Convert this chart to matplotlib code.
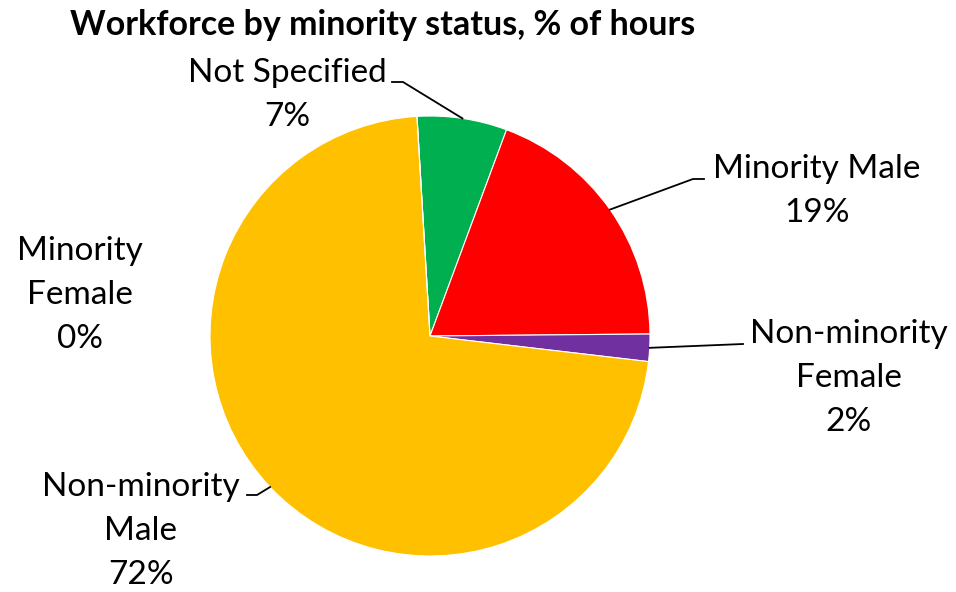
import numpy as np
import matplotlib
matplotlib.use("Agg")
import matplotlib.pyplot as plt

plt.rcParams['font.family'] = ['Lato', 'DejaVu Sans']

# data
categories = ["Not Specified", "Minority Male", "Non-minority\nFemale",
              "Non-minority\nMale", "Minority\nFemale"]
hours_pct = [6.6, 19.2, 2.0, 72.2, 0.0]
colors = ["#00B050", "#FF0000", "#7030A0", "#FFC000", "#4472C4"]

W, H = 956, 592
fig = plt.figure(figsize=(W / 100, H / 100), dpi=100)
ax = fig.add_axes([0, 0, 1, 1])

cx, cy, r = 430, H - 336, 220
wedges, _ = ax.pie(hours_pct, colors=colors, startangle=93.4, counterclock=False,
                   center=(cx, cy), radius=r,
                   wedgeprops=dict(edgecolor="white", linewidth=0.8))
ax.set_xlim(0, W)
ax.set_ylim(0, H)
ax.set_aspect("equal")
ax.axis("off")

# label layout (pixel coords, y from top): text center, line start, elbow
layout = [
    dict(xy=(287, 95), line=[(392, 82), (403, 82)]),
    dict(xy=(817, 191), line=[(704, 179), (693, 179)]),
    dict(xy=(849, 378), line=[(743, 344)]),
    dict(xy=(141, 531), line=[(247, 495), (257, 495)]),
    dict(xy=(80, 295), line=None),
]

for w, cat, val, lay in zip(wedges, categories, hours_pct, layout):
    txt = "%s\n%d%%" % (cat, round(val))
    x, y = lay["xy"]
    ax.text(x, H - y, txt, ha="center", va="center", fontsize=24,
            linespacing=1.58, color="black")
    if lay["line"]:
        mid = np.deg2rad((w.theta1 + w.theta2) / 2)
        ex, ey = cx + r * np.cos(mid), cy + r * np.sin(mid)
        pts = [(px, H - py) for px, py in lay["line"]] + [(ex, ey)]
        ax.plot([p[0] for p in pts], [p[1] for p in pts], color="black", lw=1.3)

fig.text(383 / W, 1 - 25 / H, "Workforce by minority status, % of hours",
         ha="center", va="center", fontsize=24.5, fontweight="bold")

fig.savefig("out.png", dpi=100)
